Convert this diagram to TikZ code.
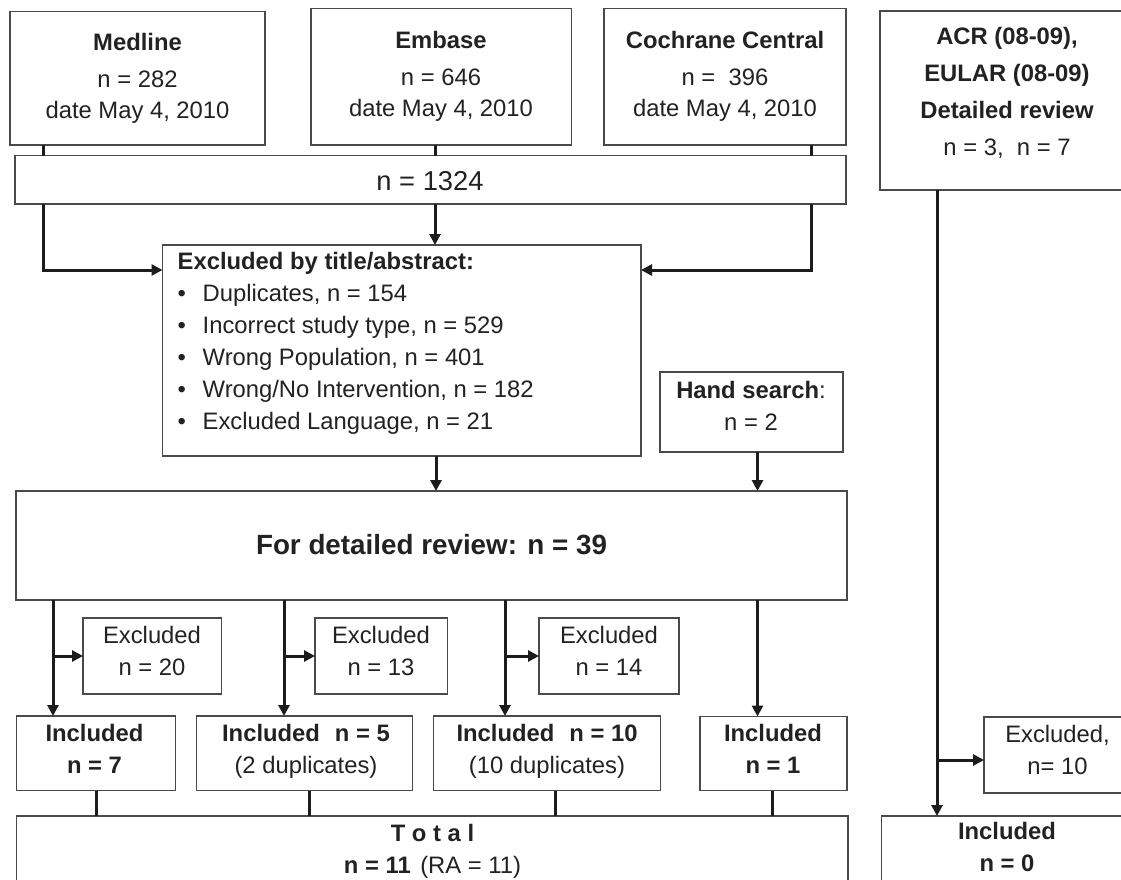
\documentclass[tikz,border=0pt]{standalone}
\usepackage{fontspec}
\setmainfont{Liberation Sans}
\usetikzlibrary{arrows.meta}
\definecolor{boxc}{HTML}{4A4A4A}
\definecolor{linec}{HTML}{1C1C1C}
\definecolor{txtc}{HTML}{222222}
\newcommand\mkbox[5]{%
  \pgfmathsetmacro\bxw{#4-(#2)}%
  \pgfmathsetmacro\bxh{#5-(#3)}%
  \pgfmathsetmacro\bxx{(#2+#4)/2}%
  \pgfmathsetmacro\bxy{(#3+#5)/2}%
  \node[box,minimum width=\bxw pt,minimum height=\bxh pt] (#1) at (\bxx,\bxy) {};}
\newcommand\bul{\makebox[25pt][l]{•}}
\begin{document}
\begin{tikzpicture}[x=1pt,y=-1pt,
  box/.style={draw=boxc,line width=1.3pt,inner sep=0pt,outer sep=0pt,fill=white},
  conn/.style={draw=linec,line width=3pt},
  arr/.style={conn,-{Triangle[length=11pt,width=11pt]}},
  txt/.style={inner sep=0pt,align=center,text=txtc,font=\fontsize{23.8}{32}\selectfont}]
\useasboundingbox (0,0) rectangle (1121,880);
\clip (0,0) rectangle (1121,880);
\fill[white] (0,0) rectangle (1121,880);
% boxes
\mkbox{medline}{10}{11.5}{265}{145}
\mkbox{embase}{311}{8.5}{571.5}{145}
\mkbox{cochrane}{604}{8.5}{846}{145}
\mkbox{acr}{880}{11}{1140}{190}
\mkbox{n1324}{15}{155.5}{846}{204}
\mkbox{excl}{162.5}{245}{641}{456}
\mkbox{hand}{660}{372}{843}{452}
\mkbox{det}{16}{491}{847}{600}
\mkbox{e1}{83}{618}{221.5}{694}
\mkbox{e2}{315}{618}{447.5}{694}
\mkbox{e3}{539}{618}{679}{694}
\mkbox{i1}{16.7}{716}{175.7}{790.5}
\mkbox{i2}{196.7}{716}{412.5}{790.5}
\mkbox{i3}{433.3}{716}{660.7}{790.5}
\mkbox{i4}{700}{716.5}{847}{790.5}
\mkbox{total}{16.7}{816}{848}{900}
\mkbox{exr}{984}{717}{1140}{793}
\mkbox{inc0}{881.7}{816}{1140}{900}
% texts
\node[txt,font=\fontsize{23.8}{31}\selectfont] (tmed) at (137.5,78.3) {\textbf{Medline}\\[6pt]n = 282\\date May 4, 2010};
\node[txt,font=\fontsize{23.8}{31}\selectfont] (temb) at (441,76.2) {\textbf{Embase}\\[6pt]n = 646\\date May 4, 2010};
\node[txt,font=\fontsize{23.8}{31}\selectfont] (tcoc) at (725,76.2) {\textbf{Cochrane Central}\\[6pt]n =\ \ 396\\date May 4, 2010};
\node[txt,font=\fontsize{23.8}{37}\selectfont] (tacr) at (1007,92.5) {\textbf{ACR (08-09),}\\\textbf{EULAR (08-09)}\\\textbf{Detailed review}\\n = 3,\ \ n = 7};
\node[txt,font=\fontsize{27.3}{32}\selectfont] (t1324) at (430,180.8) {n = 1324};
\node[txt,align=left,anchor=west] (texcl) at (177.5,343.75) {\textbf{Excluded by title/abstract:}\\\bul Duplicates, n = 154\\\bul Incorrect study type, n = 529\\\bul Wrong Population, n = 401\\\bul Wrong/No Intervention, n = 182\\\bul Excluded Language, n = 21};
\node[txt] (thand) at (751,405.4) {\textbf{Hand search}:\\n = 2};
\node[txt,font=\bfseries\fontsize{27.8}{32}\selectfont] (tdet) at (431.5,545) {For detailed review: n = 39};
\node[txt] (te1) at (152,650.5) {Excluded\\n = 20};
\node[txt] (te2) at (381,650.5) {Excluded\\n = 13};
\node[txt] (te3) at (609,650.5) {Excluded\\n = 14};
\node[txt] (ti1) at (94.5,748.5) {\textbf{Included}\\\textbf{n = 7}};
\node[txt] (ti2) at (306,751) {\textbf{Included\hspace{0.63em}n = 5}\\(2 duplicates)};
\node[txt] (ti3) at (547,751) {\textbf{Included\hspace{0.63em}n = 10}\\(10 duplicates)};
\node[txt] (ti4) at (773,748.5) {\textbf{Included}\\\textbf{n = 1}};
\node[txt] (ttot) at (432.5,851) {\textbf{T o t a l}\\\textbf{n = 11}\hspace{0.4em}(RA = 11)};
\node[txt] (texr) at (1057.5,750) {Excluded,\\n= 10};
\node[txt] (tinc0) at (1007,847) {\textbf{Included}\\\textbf{n = 0}};
% connectors
\draw[conn] (medline.south -| 43,0) -- (n1324.north -| 43,0);
\draw[conn] (embase.south -| 435,0) -- (n1324.north -| 435,0);
\draw[conn] (cochrane.south -| 811,0) -- (n1324.north -| 811,0);
\draw[arr] (n1324.south -| 43,0) |- (excl.west |- 0,270);
\draw[arr] (n1324.south -| 435,0) -- (excl.north -| 435,0);
\draw[arr] (n1324.south -| 811,0) |- (excl.east |- 0,270);
\draw[arr] (excl.south -| 436,0) -- (det.north -| 436,0);
\draw[arr] (hand.south -| 757.5,0) -- (det.north -| 757.5,0);
\coordinate (j1) at (53,656);
\coordinate (j2) at (284,656);
\coordinate (j3) at (505,656);
\coordinate (j5) at (937,760);
\draw[arr] (det.south -| j1) -- (i1.north -| j1);
\draw[arr] (j1) -- (e1.west |- j1);
\draw[arr] (det.south -| j2) -- (i2.north -| j2);
\draw[arr] (j2) -- (e2.west |- j2);
\draw[arr] (det.south -| j3) -- (i3.north -| j3);
\draw[arr] (j3) -- (e3.west |- j3);
\draw[arr] (det.south -| 757.5,0) -- (i4.north -| 757.5,0);
\draw[conn] (i1.south -| 96.7,0) -- (total.north -| 96.7,0);
\draw[conn] (i2.south -| 309.3,0) -- (total.north -| 309.3,0);
\draw[conn] (i3.south -| 555,0) -- (total.north -| 555,0);
\draw[conn] (i4.south -| 772.3,0) -- (total.north -| 772.3,0);
\draw[arr] (acr.south -| j5) -- (inc0.north -| j5);
\draw[arr] (j5) -- (exr.west |- j5);
\end{tikzpicture}
\end{document}
